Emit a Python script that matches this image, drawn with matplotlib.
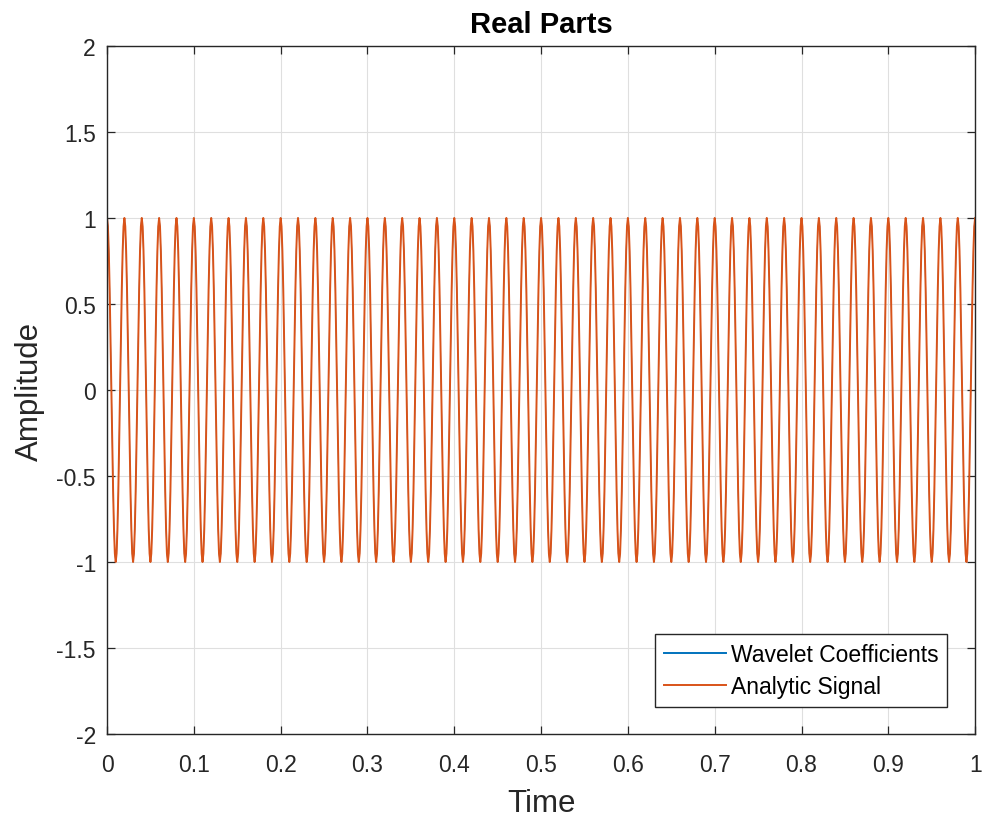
import matplotlib
matplotlib.use("Agg")
import matplotlib.pyplot as plt
import numpy as np

# signal: 50 cycles over 1 s, unit amplitude, starts at a peak
FS = 1000          # samples per second
FREQ = 50          # Hz
AMPL = 1.0
T_START, T_END = 0.0, 1.0

x_ticks = [0, 0.1, 0.2, 0.3, 0.4, 0.5, 0.6, 0.7, 0.8, 0.9, 1]
x_tick_labels = ["0", "0.1", "0.2", "0.3", "0.4", "0.5", "0.6", "0.7", "0.8", "0.9", "1"]
y_ticks = [-2, -1.5, -1, -0.5, 0, 0.5, 1, 1.5, 2]
y_tick_labels = ["-2", "-1.5", "-1", "-0.5", "0", "0.5", "1", "1.5", "2"]
series_names = ["Wavelet Coefficients", "Analytic Signal"]

t = np.arange(T_START, T_END + 1 / FS / 2, 1 / FS)
wavelet_coefs = AMPL * np.cos(2 * np.pi * FREQ * t)
analytic_real = AMPL * np.cos(2 * np.pi * FREQ * t)

plt.rcParams["font.family"] = ["Liberation Sans", "DejaVu Sans"]

fig = plt.figure(figsize=(9.82, 8.2), dpi=100)
ax = fig.add_axes([0.109, 0.1037, 0.884, 0.839])

# blue sits under the orange, thinner so the blend doesn't go grey
ax.plot(t, wavelet_coefs, color="#0072BD", lw=0.6, label=series_names[0])
ax.plot(t, analytic_real, color="#D95319", lw=1.4, label=series_names[1])

ax.set_xlim(0, 1)
ax.set_ylim(-2, 2)
ax.set_xticks(x_ticks)
ax.set_xticklabels(x_tick_labels)
ax.set_yticks(y_ticks)
ax.set_yticklabels(y_tick_labels)

ax.grid(True, color="#dfdfdf", lw=0.8)
ax.set_axisbelow(True)
ax.tick_params(direction="in", top=True, right=True, length=6, width=0.9,
               labelsize=16.5, colors="#262626")
ax.tick_params(axis="x", pad=14)
ax.tick_params(axis="y", pad=8)
for s in ax.spines.values():
    s.set_color("#262626")
    s.set_linewidth(1.0)

ax.set_title("Real Parts", fontsize=21, fontweight="bold", color="black", pad=10)
ax.set_xlabel("Time", fontsize=22.5, color="#262626", labelpad=8)
ax.set_ylabel("Amplitude", fontsize=22.5, color="#262626", labelpad=8)

leg = ax.legend(loc="lower right", fontsize=16.5, fancybox=False, framealpha=1,
                edgecolor="#262626", bbox_to_anchor=(0.968, 0.039),
                borderaxespad=0, handlelength=2.7, handletextpad=0.2,
                borderpad=0.4, labelspacing=0.4)
leg.get_frame().set_linewidth(1.0)
for ln in leg.get_lines():
    ln.set_linewidth(1.4)

fig.savefig("out.png", dpi=100)
